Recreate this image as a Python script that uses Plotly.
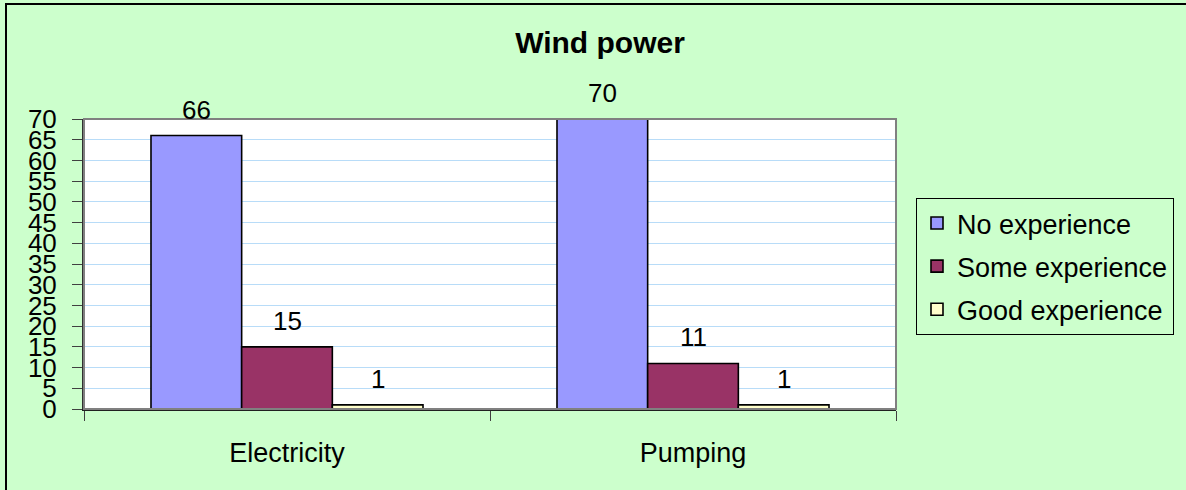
import plotly.graph_objects as go

# Survey results: experience with wind power, by application
categories = ["Electricity", "Pumping"]
series_names = ["No experience", "Some experience", "Good experience"]
no_experience = [66, 70]
some_experience = [15, 11]
good_experience = [1, 1]
y_ticks = list(range(0, 75, 5))

series_values = [no_experience, some_experience, good_experience]
colors = ["#9999FF", "#993366", "#FFFFCC"]

FONT = "Liberation Sans, Arial, sans-serif"
W, H = 1186, 490
L, R, T, B = 84, 290, 119, 81
plot_w = W - L - R
plot_h = H - T - B

fig = go.Figure()
for name, vals, col in zip(series_names, series_values, colors):
    fig.add_trace(go.Bar(
        x=categories, y=vals, name=name, legendgroup=name,
        marker=dict(color=col, line=dict(color="black", width=1.6)),
        hoverinfo="x+y+name",
    ))

bargap = 0.33
bar_w = (1 - bargap) / len(series_names)
annotations = []
for si, vals in enumerate(series_values):
    off = (si - (len(series_names) - 1) / 2) * bar_w
    for ci, v in enumerate(vals):
        annotations.append(dict(
            x=ci + off, y=v, xref="x", yref="y", text=str(v), showarrow=False,
            yanchor="middle", yshift=26,
            font=dict(family=FONT, size=26, color="black"),
        ))

def px_x(p):
    return (p - L) / plot_w

def px_y(p):
    return (H - B - p) / plot_h

shapes = [
    # outer chart frame
    dict(type="rect", xref="paper", yref="paper",
         x0=px_x(6), x1=px_x(1200), y0=px_y(500), y1=px_y(4),
         line=dict(color="black", width=2), fillcolor="rgba(0,0,0,0)", layer="below"),
    # plot area frame
    dict(type="rect", xref="paper", yref="paper", x0=0, x1=1, y0=0, y1=1,
         line=dict(color="#808080", width=2), fillcolor="rgba(0,0,0,0)", layer="above"),
]

fig.update_layout(
    width=W, height=H,
    margin=dict(l=L, r=R, t=T, b=B, pad=0),
    paper_bgcolor="#CCFFCC", plot_bgcolor="white",
    barmode="group", bargap=bargap, bargroupgap=0,
    title=dict(text="<b>Wind power</b>", x=600 / W, xanchor="center",
               y=1 - 42 / H, yanchor="middle", yref="container",
               font=dict(family=FONT, size=30, color="black")),
    font=dict(family=FONT, color="black"),
    showlegend=True,
    legend=dict(x=px_x(916), y=px_y(198), xanchor="left", yanchor="top",
                xref="paper", yref="paper",
                bgcolor="#CCFFCC", bordercolor="black", borderwidth=1,
                font=dict(family=FONT, size=27, color="black"),
                tracegroupgap=5, itemwidth=30, traceorder="grouped"),
    annotations=annotations,
    shapes=shapes,
    xaxis=dict(type="category", showgrid=False, ticks="outside", tickson="boundaries",
               ticklen=10, tickcolor="#404040", tickwidth=1,
               showline=True, linecolor="#202020", linewidth=2,
               tickfont=dict(family=FONT, size=27, color="black"),
               ticklabelstandoff=19),
    yaxis=dict(range=[0, 70], tickvals=y_ticks, ticktext=[str(t) for t in y_ticks],
               showgrid=True, gridcolor="#B8DCF8", gridwidth=1,
               ticks="outside", ticklen=10, tickcolor="#404040",
               showline=True, linecolor="#303030", linewidth=2,
               zeroline=False,
               tickfont=dict(family=FONT, size=26, color="black"),
               ticklabelstandoff=10),
)

fig.write_html("out.html")
